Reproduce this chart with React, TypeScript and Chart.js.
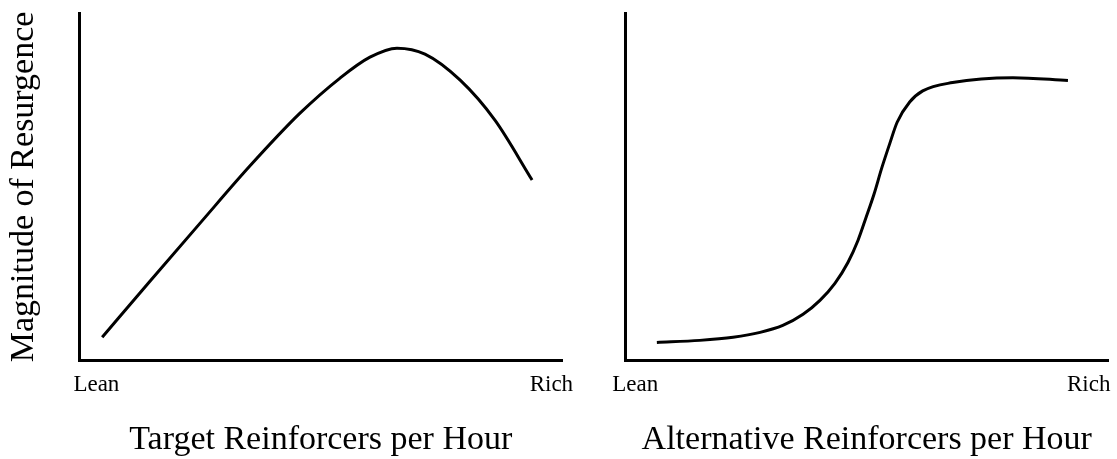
import React, { useEffect, useRef } from "react";
import { Chart, registerables } from "chart.js";

Chart.register(...registerables);

// ---- Data ----
const xTickLabels = ["Lean", "Rich"];
const leftTickValues = [3.5, 97.8];
const rightTickValues = [2.0, 96.0];
const yAxisTitle = "Magnitude of Resurgence";
const leftTitle = "Target Reinforcers per Hour";
const rightTitle = "Alternative Reinforcers per Hour";

// Left panel: resurgence vs target reinforcer rate (inverted U)
const targetX = [4.7, 14.6, 25.0, 35.3, 45.7, 54.0, 60.2, 65.8, 71.6, 78.9, 86.1, 93.8];
const targetY = [6.8, 22.9, 39.6, 56.0, 71.2, 81.3, 87.3, 89.9, 88.2, 80.7, 69.2, 52.0];

// Right panel: resurgence vs alternative reinforcer rate (sigmoid)
const altX = [6.5, 15.4, 22.3, 27.9, 32.6, 36.8, 40.3, 43.4, 46.1, 48.2, 49.8, 51.5, 53.1, 54.8, 56.3, 58.9, 61.6, 67.8, 80.3, 91.7];
const altY = [5.3, 5.9, 6.8, 8.2, 10.2, 13.4, 17.4, 22.3, 28.3, 34.7, 41.0, 47.9, 55.4, 62.6, 68.6, 74.4, 77.6, 80.0, 81.4, 80.6];

const FONT = "'Liberation Serif', 'Times New Roman', serif";

function makeConfig(xs: number[], ys: number[], tickVals: number[], title: string, yTitle: string | null, padding: any) {
  const pts = xs.map((x, i) => ({ x, y: ys[i] }));
  return {
    type: "line" as const,
    data: {
      datasets: [
        {
          data: pts,
          borderColor: "#000",
          borderWidth: 3,
          pointRadius: 0,
          fill: false,
          cubicInterpolationMode: "monotone" as const,
        },
      ],
    },
    options: {
      animation: false,
      responsive: false,
      maintainAspectRatio: false,
      layout: { padding },
      plugins: { legend: { display: false }, tooltip: { enabled: false } },
      scales: {
        x: {
          type: "linear" as const,
          min: 0,
          max: 100,
          grid: { display: false, drawTicks: false, tickLength: 0 },
          border: { display: true, color: "#000", width: 3 },
          afterBuildTicks: (scale: any) => {
            scale.ticks = tickVals.map((v) => ({ value: v }));
          },
          afterFit: (scale: any) => {
            scale.paddingLeft = 0;
            scale.paddingRight = 0;
          },
          ticks: {
            autoSkip: false,
            maxRotation: 0,
            padding: 10,
            color: "#000",
            font: { family: FONT, size: 23 },
            callback: (_v: any, i: number) => xTickLabels[i],
          },
          title: {
            display: true,
            text: title,
            color: "#000",
            font: { family: FONT, size: 34, lineHeight: 1 },
            padding: { top: 14.5, bottom: 2 },
          },
        },
        y: {
          type: "linear" as const,
          min: 0,
          max: 100,
          grid: { display: false, drawTicks: false, tickLength: 0 },
          border: { display: true, color: "#000", width: 3 },
          ticks: { display: false },
          title: {
            display: !!yTitle,
            text: yTitle || "",
            color: "#000",
            font: { family: FONT, size: 34, lineHeight: 1 },
            padding: { top: 7, bottom: 38.5 },
          },
        },
      },
    },
  };
}

function Panel(props: { xs: number[]; ys: number[]; tickVals: number[]; title: string; yTitle: string | null; padding: any; left: number; width: number }) {
  const ref = useRef<HTMLCanvasElement | null>(null);
  useEffect(() => {
    if (!ref.current) return;
    const chart = new Chart(
      ref.current,
      makeConfig(props.xs, props.ys, props.tickVals, props.title, props.yTitle, props.padding) as any
    );
    return () => chart.destroy();
  }, []);
  return (
    <canvas
      ref={ref}
      width={props.width}
      height={459}
      style={{ position: "absolute", left: props.left, top: 0, width: props.width, height: 459 }}
    />
  );
}

export default function App() {
  return (
    <div style={{ position: "absolute", left: 0, top: 0, width: 1117, height: 459, background: "#fff" }}>
      <Panel xs={targetX} ys={targetY} tickVals={leftTickValues} title={leftTitle} yTitle={yAxisTitle} padding={{ top: 13, right: 38, left: 0, bottom: 0 }} left={0} width={600} />
      <Panel xs={altX} ys={altY} tickVals={rightTickValues} title={rightTitle} yTitle={null} padding={{ top: 13, right: 9, left: 25.5, bottom: 0 }} left={600} width={517} />
    </div>
  );
}
